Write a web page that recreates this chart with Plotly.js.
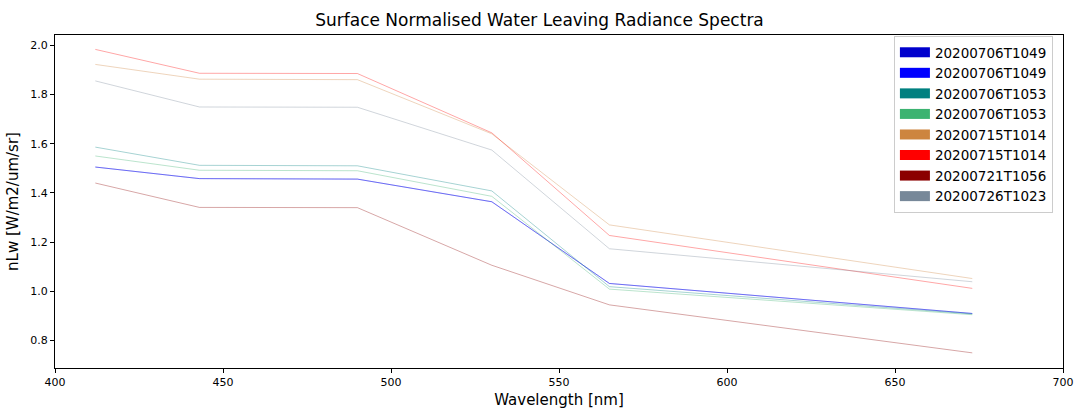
<!DOCTYPE html>
<html>
<head>
<meta charset="utf-8">
<script src="https://cdn.plot.ly/plotly-3.0.1.min.js"></script>
<style>html,body{margin:0;padding:0;background:#fff;}#chart{width:1079px;height:410px;}</style>
</head>
<body>
<div id="chart"></div>
<script>
const wavelengths = [412, 443, 490, 530, 565, 673];
const names = ["20200706T1049","20200706T1049","20200706T1053","20200706T1053","20200715T1014","20200715T1014","20200721T1056","20200726T1023"];
const colors = ["#0000cd","#0000ff","#008080","#3cb371","#cd853f","#ff0000","#8b0000","#778899"];
const s1049a = [1.505, 1.458, 1.456, 1.364, 1.032, 0.910];
const s1049b = [1.505, 1.458, 1.456, 1.364, 1.032, 0.910];
const s1053a = [1.586, 1.512, 1.510, 1.408, 1.019, 0.908];
const s1053b = [1.550, 1.492, 1.490, 1.386, 1.009, 0.905];
const s0715a = [1.922, 1.862, 1.860, 1.640, 1.270, 1.052];
const s0715b = [1.983, 1.886, 1.885, 1.644, 1.227, 1.012];
const s0721 = [1.440, 1.341, 1.340, 1.106, 0.945, 0.750];
const s0726 = [1.855, 1.749, 1.748, 1.574, 1.173, 1.039];
const series = [s1049a, s1049b, s1053a, s1053b, s0715a, s0715b, s0721, s0726];

const traces = [];
series.forEach((ys, i) => {
  traces.push({x: wavelengths, y: ys, mode: 'lines', line: {color: colors[i], width: 0.7},
    opacity: 0.5, showlegend: false, hoverinfo: 'skip'});
});
series.forEach((ys, i) => {
  traces.push({x: [null], y: [null], mode: 'lines', name: names[i],
    line: {color: colors[i], width: 10}, showlegend: true});
});

const font = "DejaVu Sans, sans-serif";
const layout = {
  width: 1079, height: 410,
  margin: {l: 55, r: 16, t: 35, b: 42},
  paper_bgcolor: '#fff', plot_bgcolor: '#fff',
  font: {family: font, color: '#000'},
  title: {text: 'Surface Normalised Water Leaving Radiance Spectra', font: {size: 17, family: font, color: '#000'},
    x: 0.5, xanchor: 'center', y: 0.95, yanchor: 'middle'},
  xaxis: {range: [400, 700], dtick: 50, tick0: 400, showgrid: false, zeroline: false,
    showline: true, mirror: true, linecolor: '#000', linewidth: 1,
    ticks: 'outside', ticklen: 4, tickcolor: '#000', tickfont: {size: 11, family: font},
    title: {text: 'Wavelength [nm]', font: {size: 15, family: font}, standoff: 6}},
  yaxis: {range: [0.6885, 2.0415], dtick: 0.2, tick0: 0.8, tickformat: '.1f', showgrid: false, zeroline: false,
    showline: true, mirror: true, linecolor: '#000', linewidth: 1,
    ticks: 'outside', ticklen: 4, tickcolor: '#000', tickfont: {size: 11, family: font},
    title: {text: 'nLw [W/m2/um/sr]', font: {size: 15, family: font}, standoff: 8}},
  legend: {x: 0.99, xanchor: 'right', y: 0.997, yanchor: 'top', bgcolor: '#fff',
    bordercolor: '#cccccc', borderwidth: 1, font: {size: 13.5, family: font}, tracegroupgap: 0}
};
Plotly.newPlot('chart', traces, layout, {displayModeBar: false, staticPlot: true});
</script>
</body>
</html>
